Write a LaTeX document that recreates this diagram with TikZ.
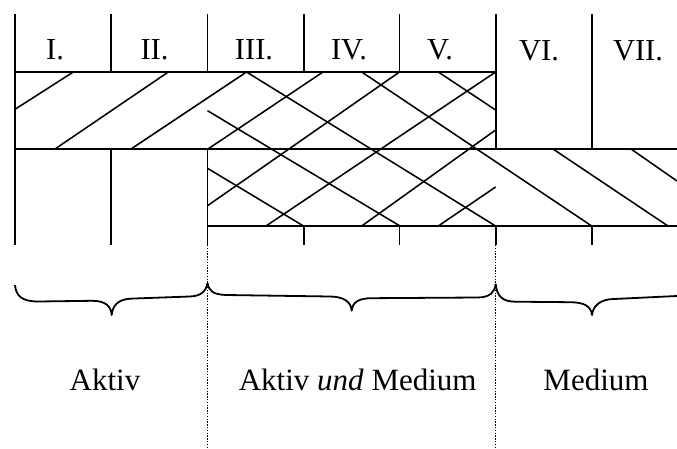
\documentclass[tikz,border=0pt]{standalone}
\usepackage{fontspec}
\setmainfont{Liberation Serif}
\begin{document}
\begin{tikzpicture}[x=1pt,y=-1pt,
  frame/.style={line width=1.8pt},
  hatch/.style={line width=1.55pt},
  sep/.style={line width=1.3pt, dash pattern=on 1.3pt off 1.5pt},
  brace/.style={line width=1.8pt, line join=round},
  numlbl/.style={anchor=base, inner sep=0pt, font=\fontsize{30.5}{36}\selectfont},
  grplbl/.style={anchor=base, inner sep=0pt, font=\fontsize{31}{37}\selectfont}]
\useasboundingbox (0,0) rectangle (677,449);

% frame lines
\draw[frame] (15,14) -- (15,245);
\draw[frame] (15,72) -- (495.6,72);
\draw[frame] (15,149) -- (677,149);
\draw[frame] (207.5,226) -- (677,226);
\draw[frame] (111.3,14) -- (111.3,72) (111.3,149) -- (111.3,245);
\draw[frame] (207.5,14) -- (207.5,72) (207.5,149) -- (207.5,245);
\draw[frame] (303.6,14) -- (303.6,72) (303.6,226) -- (303.6,245);
\draw[frame] (399.5,14) -- (399.5,72) (399.5,226) -- (399.5,245);
\draw[frame] (495.6,14) -- (495.6,149) (495.6,226) -- (495.6,245);
\draw[frame] (591.7,14) -- (591.7,149) (591.7,226) -- (591.7,245);

% hatching "/"
\draw[hatch] (15,109.3) -- (73.3,72);
\draw[hatch] (55,149) -- (168.3,72);
\draw[hatch] (131,149) -- (246.5,72);
\draw[hatch] (208,149) -- (323,72);
\draw[hatch] (207.5,205.7) -- (399.5,72);
\draw[hatch] (266,226) -- (495.6,72);
\draw[hatch] (361.7,226) -- (495.6,130);
\draw[hatch] (438.3,226) -- (495.6,187);
% hatching "\"
\draw[hatch] (246.5,72) -- (495.6,226);
\draw[hatch] (207.5,110.7) -- (400,226);
\draw[hatch] (207.5,168.3) -- (303.5,226);
\draw[hatch] (361.7,72) -- (591.7,226);
\draw[hatch] (438.3,72) -- (495.6,110);
\draw[hatch] (553,149) -- (668,226);
\draw[hatch] (631,149) -- (677,181);

% dotted separators
\draw[sep] (207.5,245) -- (207.5,449);
\draw[sep] (495.6,245) -- (495.6,449);

% braces
\draw[brace] (15,285) .. controls (16,296) and (22,301.5) .. (38,301.5) -- (92,300.8)
  .. controls (104,300.8) and (111,305) .. (111.7,315)
  .. controls (112.5,305) and (119,298.8) .. (132,298.6) -- (190,296.5)
  .. controls (200,296.2) and (206,292) .. (207.5,283);
\draw[brace] (207.5,283) .. controls (209,291) and (213,294.5) .. (226,295) -- (330,296.5)
  .. controls (344,296.6) and (351,302) .. (351.7,310.7)
  .. controls (352.5,302) and (359,298.2) .. (372,298.2) -- (478,297.5)
  .. controls (490,297.3) and (495,292) .. (495.6,284);
\draw[brace] (495.6,284) .. controls (497,296) and (502,301.5) .. (515,301.7) -- (570,302.2)
  .. controls (584,302.3) and (591,306) .. (592,315)
  .. controls (593,306) and (600,299.2) .. (614,299) -- (677,296);

% column labels
\node[numlbl] (c1) at (55,60) {I.};
\node[numlbl] (c2) at (154.5,60) {II.};
\node[numlbl] (c3) at (254,60) {III.};
\node[numlbl] (c4) at (349,60) {IV.};
\node[numlbl] (c5) at (440,60) {V.};
\node[numlbl] (c6) at (539,60.5) {VI.};
\node[numlbl] (c7) at (638,60.5) {VII.};

% group labels
\node[grplbl] (g1) at (105,390) {Aktiv};
\node[grplbl] (g2) at (357.7,390) {Aktiv \textit{und} Medium};
\node[grplbl] (g3) at (596,390) {Medium};
\end{tikzpicture}
\end{document}
